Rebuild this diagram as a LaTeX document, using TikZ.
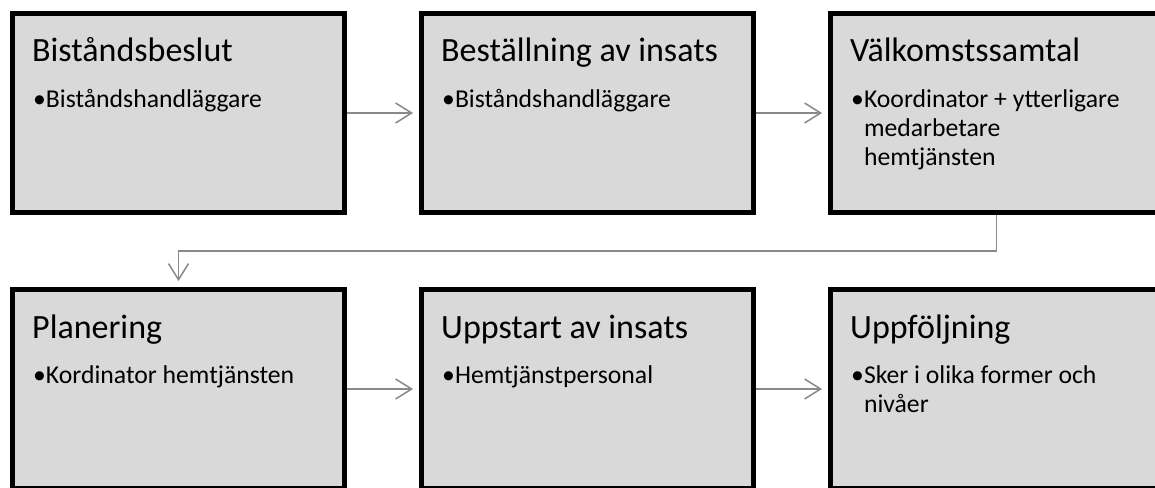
\documentclass[tikz,border=0pt]{standalone}
\usepackage{fontspec}
\setmainfont{Carlito}
\usetikzlibrary{arrows.meta}
\definecolor{boxgray}{RGB}{217,217,217}
\definecolor{linegray}{RGB}{137,137,137}
\newcommand{\punkt}[1]{•\begin{tabular}[t]{@{}l@{}}#1\end{tabular}}
\begin{document}
\begin{tikzpicture}[x=1pt,y=-1pt,
  stepbox/.style={draw=black,line width=5pt,fill=boxgray,minimum width=332pt,minimum height=199pt,inner sep=0pt},
  title/.style={anchor=base west,inner sep=0pt,font=\fontsize{34}{40}\selectfont},
  bullet/.style={anchor=base west,inner sep=0pt,font=\fontsize{25.7}{29}\selectfont},
  flow/.style={draw=linegray,line width=1.5pt,-{Straight Barb[length=16pt,width=20pt,line width=1.5pt]},shorten >=6pt}]
\useasboundingbox (0,0) rectangle (1155,487);
\clip (0,0) rectangle (1155,487);
% first row
\node[stepbox] (beslut) at (178.5,113) {};
\node[title] (beslut-t) at (32,62) {Biståndsbeslut};
\node[bullet] (beslut-b) at (33,107) {\punkt{Biståndshandläggare}};
\node[stepbox] (bestallning) at (587.5,113) {};
\node[title] (bestallning-t) at (441,62) {Beställning av insats};
\node[bullet] (bestallning-b) at (442,107) {\punkt{Biståndshandläggare}};
\node[stepbox] (valkomst) at (996.5,113) {};
\node[title] (valkomst-t) at (850,62) {Välkomstssamtal};
\node[bullet] (valkomst-b) at (851,107) {\punkt{Koordinator + ytterligare\\medarbetare\\hemtjänsten}};
% second row
\node[stepbox] (planering) at (178.5,389) {};
\node[title] (planering-t) at (32,338) {Planering};
\node[bullet] (planering-b) at (33,383) {\punkt{Kordinator hemtjänsten}};
\node[stepbox] (uppstart) at (587.5,389) {};
\node[title] (uppstart-t) at (441,338) {Uppstart av insats};
\node[bullet] (uppstart-b) at (442,383) {\punkt{Hemtjänstpersonal}};
\node[stepbox] (uppfoljning) at (996.5,389) {};
\node[title] (uppfoljning-t) at (850,338) {Uppföljning};
\node[bullet] (uppfoljning-b) at (851,383) {\punkt{Sker i olika former och\\nivåer}};
% connectors
\draw[flow] (beslut) -- (bestallning);
\draw[flow] (bestallning) -- (valkomst);
\draw[flow] (valkomst.south) -- ++(0,36) -| (planering.north);
\draw[flow] (planering) -- (uppstart);
\draw[flow] (uppstart) -- (uppfoljning);
\end{tikzpicture}
\end{document}
